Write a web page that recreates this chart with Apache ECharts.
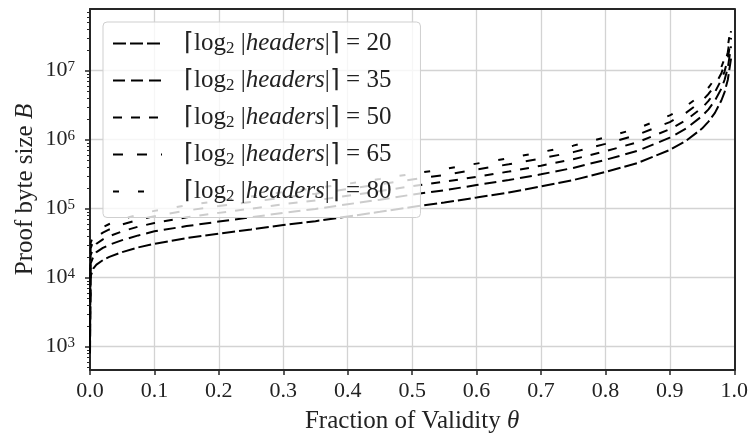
<!DOCTYPE html>
<html><head><meta charset="utf-8">
<script src="https://cdn.jsdelivr.net/npm/echarts@6/dist/echarts.min.js"></script>
<style>html,body{margin:0;padding:0;background:#fff}#c{width:751px;height:439px}</style>
</head><body><div id="c"></div>
<script>
// ---- data ----
const theta = [0, 0.001, 0.005, 0.01, 0.02, 0.03, 0.05, 0.075, 0.1, 0.15, 0.2, 0.25, 0.3, 0.35, 0.4, 0.45, 0.5, 0.55, 0.6, 0.65, 0.7, 0.75, 0.8, 0.85, 0.9, 0.925, 0.95, 0.96, 0.97, 0.98, 0.985, 0.99, 0.995];
const s20 = [800, 1.05e4, 1.35e4, 1.55e4, 1.8e4, 2.0e4, 2.35e4, 2.75e4, 3.1e4, 3.75e4, 4.35e4, 5.0e4, 5.8e4, 6.6e4, 7.7e4, 9.0e4, 1.06e5, 1.23e5, 1.45e5, 1.72e5, 2.1e5, 2.6e5, 3.4e5, 4.6e5, 7.1e5, 9.6e5, 1.45e6, 1.83e6, 2.45e6, 3.7e6, 4.9e6, 7.4e6, 1.5e7];
const s35 = [1200, 1.6e4, 2.0e4, 2.35e4, 2.7e4, 3.0e4, 3.5e4, 4.1e4, 4.7e4, 5.6e4, 6.5e4, 7.5e4, 8.7e4, 9.9e4, 1.16e5, 1.35e5, 1.6e5, 1.85e5, 2.2e5, 2.6e5, 3.15e5, 3.9e5, 5.1e5, 6.9e5, 1.07e6, 1.45e6, 2.2e6, 2.75e6, 3.7e6, 5.5e6, 7.4e6, 1.1e7, 2.25e7];
const s50 = [1600, 2.1e4, 2.7e4, 3.1e4, 3.6e4, 4.0e4, 4.7e4, 5.5e4, 6.2e4, 7.5e4, 8.7e4, 1.0e5, 1.16e5, 1.32e5, 1.54e5, 1.8e5, 2.12e5, 2.46e5, 2.9e5, 3.45e5, 4.2e5, 5.2e5, 6.8e5, 9.2e5, 1.42e6, 1.92e6, 2.9e6, 3.65e6, 4.9e6, 7.4e6, 9.8e6, 1.48e7, 3.0e7];
const s65 = [2000, 2.65e4, 3.4e4, 3.9e4, 4.5e4, 5.0e4, 5.9e4, 6.9e4, 7.8e4, 9.4e4, 1.09e5, 1.25e5, 1.45e5, 1.65e5, 1.93e5, 2.25e5, 2.65e5, 3.08e5, 3.7e5, 4.4e5, 5.35e5, 6.6e5, 8.7e5, 1.18e6, 1.8e6, 2.45e6, 3.65e6, 4.6e6, 6.1e6, 9.2e6, 1.22e7, 1.85e7, 3.75e7];
const s80 = [2400, 3.2e4, 4.0e4, 4.65e4, 5.4e4, 6.0e4, 7.05e4, 8.25e4, 9.3e4, 1.12e5, 1.3e5, 1.5e5, 1.74e5, 1.98e5, 2.3e5, 2.7e5, 3.2e5, 3.75e5, 4.5e5, 5.4e5, 6.6e5, 8.2e5, 1.08e6, 1.46e6, 2.25e6, 3.05e6, 4.55e6, 5.7e6, 7.6e6, 1.13e7, 1.5e7, 2.25e7, 4.5e7];
const seriesNames = ['20', '35', '50', '65', '80'];
const seriesValues = [s20, s35, s50, s65, s80];
const xTickLabels = ['0.0','0.1','0.2','0.3','0.4','0.5','0.6','0.7','0.8','0.9','1.0'];
const yMajorExponents = [3, 4, 5, 6, 7];
const yMinorMantissas = [2, 3, 4, 5, 6, 7, 8, 9];

// ---- styling ----
const dashes = [[13, 4], [12, 6], [9, 9], [10, 14], [6, 19]];
const Y_MIN = 459.4, Y_MAX = 7.84e7;
const LMIN = Math.log10(Y_MIN), LMAX = Math.log10(Y_MAX);
const FONT = 'Liberation Serif';
const TXT = '#222222';
const SPINE = '#262626';
const GRIDC = '#d3d3d3';

const minorTicks = [];
for (let e = 2; e <= 7; e++) for (const m of yMinorMantissas) {
  const lv = Math.log10(m) + e;
  if (lv > LMIN && lv < LMAX) minorTicks.push(lv);
}

const chart = echarts.init(document.getElementById('c'), null, {renderer: 'canvas'});
const series = seriesNames.map((n, i) => ({
  name: n, type: 'line', xAxisIndex: 0, yAxisIndex: 0,
  symbol: 'none', showSymbol: false, animation: false, silent: true,
  data: theta.map((t, j) => [t, seriesValues[i][j]]),
  lineStyle: {color: '#000', width: 2, type: dashes[i], cap: 'butt'},
  itemStyle: {color: '#000'},
  z: 3
}));

chart.setOption({
  animation: false,
  backgroundColor: '#fff',
  grid: {left: 90, right: 15, top: 9, bottom: 69, containLabel: false},
  legend: {
    orient: 'vertical', left: 103, top: 22, z: 10,
    itemWidth: 49, itemHeight: 14, itemGap: 10.5,
    padding: [9, 9, 12, 9],
    backgroundColor: 'rgba(255,255,255,0.8)', borderColor: '#cfcfcf', borderWidth: 1, borderRadius: 4,
    selectedMode: false,
    itemStyle: {opacity: 0},
    data: seriesNames,
    formatter: n => '{r|\u2308log}{s|2}{r| |}{i|headers}{r||\u2309 = ' + n + '}{sp| }',
    textStyle: {
      padding: [0, 0, 0, 17], color: TXT,
      rich: {
        r: {fontFamily: FONT, fontSize: 25, lineHeight: 28, color: TXT},
        i: {fontFamily: FONT, fontSize: 25, lineHeight: 28, fontStyle: 'italic', color: TXT},
        s: {fontFamily: FONT, fontSize: 17, lineHeight: 17, verticalAlign: 'bottom', color: TXT},
        sp: {fontFamily: FONT, fontSize: 10, width: 20, lineHeight: 10, color: TXT}
      }
    }
  },
  xAxis: [{
    type: 'value', min: 0, max: 1, interval: 0.1, position: 'bottom',
    name: 'Fraction of Validity {i|\u03b8}', nameLocation: 'middle', nameGap: 39,
    nameTextStyle: {fontFamily: FONT, fontSize: 25, color: TXT,
      rich: {i: {fontFamily: FONT, fontSize: 25, fontStyle: 'italic', color: TXT}}},
    axisLine: {show: true, onZero: false, lineStyle: {color: SPINE, width: 2}},
    axisTick: {show: true, length: 5, lineStyle: {color: SPINE, width: 1.5}},
    axisLabel: {margin: 10, fontFamily: FONT, fontSize: 22, color: TXT,
      formatter: v => xTickLabels[Math.round(v * 10)]},
    splitLine: {show: true, showMinLine: false, showMaxLine: false, lineStyle: {color: GRIDC, width: 1.3}}
  }, {
    type: 'value', min: 0, max: 1, position: 'top',
    axisLine: {show: true, onZero: false, lineStyle: {color: SPINE, width: 2}},
    axisTick: {show: false}, axisLabel: {show: false}, splitLine: {show: false}
  }],
  yAxis: [{
    type: 'log', logBase: 10, min: Y_MIN, max: Y_MAX, position: 'left',
    name: 'Proof byte size {i|B}', nameLocation: 'middle', nameGap: 52, nameRotate: 90,
    nameTextStyle: {fontFamily: FONT, fontSize: 25, color: TXT,
      rich: {i: {fontFamily: FONT, fontSize: 25, fontStyle: 'italic', color: TXT}}},
    axisLine: {show: true, onZero: false, lineStyle: {color: SPINE, width: 2}},
    axisTick: {show: false}, axisLabel: {show: false},
    splitLine: {show: true, showMinLine: false, showMaxLine: false, lineStyle: {color: GRIDC, width: 1.3}}
  }, {
    type: 'value', min: LMIN, max: LMAX, position: 'left',
    axisLine: {show: false},
    axisTick: {show: true, length: 5, customValues: yMajorExponents, lineStyle: {color: SPINE, width: 1.5}},
    axisLabel: {show: true, customValues: yMajorExponents, margin: 15,
      formatter: v => '{b|10}{s|' + Math.round(v) + '}',
      rich: {
        b: {fontFamily: FONT, fontSize: 22, lineHeight: 22, padding: [5, 0, 0, 0], verticalAlign: 'bottom', color: TXT},
        s: {fontFamily: FONT, fontSize: 15, lineHeight: 15, verticalAlign: 'top', color: TXT}
      }},
    splitLine: {show: false}
  }, {
    type: 'value', min: LMIN, max: LMAX, position: 'left',
    axisLine: {show: false},
    axisTick: {show: true, length: 3, customValues: minorTicks, lineStyle: {color: SPINE, width: 1}},
    axisLabel: {show: false}, splitLine: {show: false}
  }, {
    type: 'value', min: LMIN, max: LMAX, position: 'right',
    axisLine: {show: true, onZero: false, lineStyle: {color: SPINE, width: 2}},
    axisTick: {show: false}, axisLabel: {show: false}, splitLine: {show: false}
  }],
  series: series
});
</script>
</body></html>
